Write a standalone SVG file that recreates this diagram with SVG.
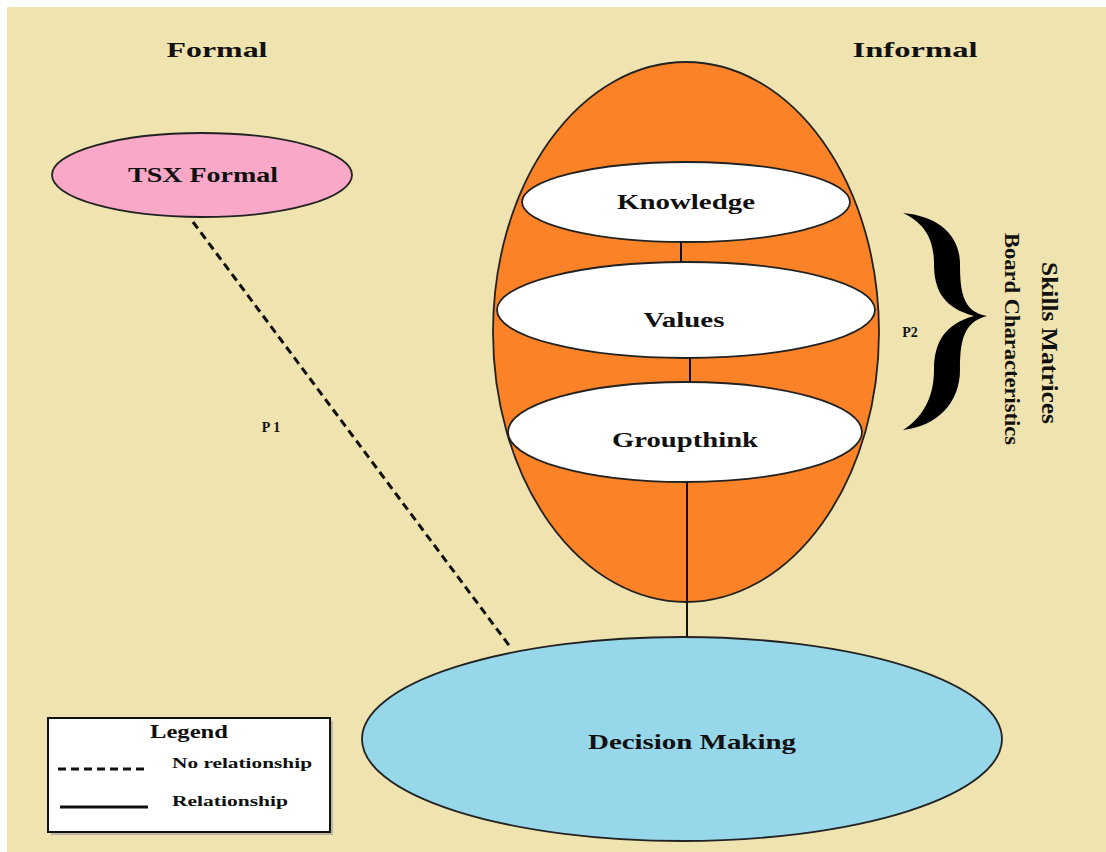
<svg xmlns="http://www.w3.org/2000/svg" width="1106" height="852" viewBox="0 0 1106 852">
<style>
.t{font-family:"Liberation Serif","Times New Roman",serif;font-weight:bold;fill:#111;}
.node{stroke:#222;stroke-width:1.8;}
.rel{stroke:#111;stroke-width:2;fill:none;}
.norel{stroke:#111;stroke-width:3;stroke-dasharray:8,5;fill:none;}
</style>
<rect x="0" y="0" width="1106" height="852" fill="#ffffff"/>
<rect x="7" y="7" width="1099" height="845" fill="#EFE3B0"/>
<text class="t" x="217" y="57" font-size="22" text-anchor="middle" textLength="101" lengthAdjust="spacingAndGlyphs">Formal</text>
<text class="t" x="915" y="57" font-size="22" text-anchor="middle" textLength="125" lengthAdjust="spacingAndGlyphs">Informal</text>
<g id="informal">
<ellipse class="node" cx="686" cy="332" rx="193" ry="270" fill="#FB8226"/>
</g>
<g id="knowledge">
<ellipse class="node" cx="686" cy="202" rx="164" ry="40" fill="#ffffff"/>
<text class="t" x="686" y="209" font-size="20" text-anchor="middle" textLength="138" lengthAdjust="spacingAndGlyphs">Knowledge</text>
</g>
<g id="values">
<ellipse class="node" cx="686" cy="310" rx="189" ry="48" fill="#ffffff"/>
<text class="t" x="684" y="327" font-size="20" text-anchor="middle" textLength="81" lengthAdjust="spacingAndGlyphs">Values</text>
</g>
<g id="groupthink">
<ellipse class="node" cx="685" cy="432" rx="177" ry="50" fill="#ffffff"/>
<text class="t" x="685" y="447" font-size="20" text-anchor="middle" textLength="146" lengthAdjust="spacingAndGlyphs">Groupthink</text>
</g>
<g id="tsx">
<ellipse class="node" cx="202" cy="175" rx="150" ry="42" fill="#F9A8C8"/>
<text class="t" x="203" y="182" font-size="20" text-anchor="middle" textLength="150" lengthAdjust="spacingAndGlyphs">TSX Formal</text>
</g>
<g id="decision">
<ellipse class="node" cx="682" cy="739" rx="320" ry="102" fill="#97D7EA"/>
<text class="t" x="692" y="749" font-size="22" text-anchor="middle" textLength="208" lengthAdjust="spacingAndGlyphs">Decision Making</text>
</g>
<g id="connectors">
<line class="norel" x1="193" y1="222" x2="511" y2="648"/>
<line class="rel" x1="681" y1="242" x2="681" y2="262"/>
<line class="rel" x1="690" y1="358" x2="690" y2="382"/>
<line class="rel" x1="687" y1="482" x2="687" y2="637"/>
</g>
<text class="t" x="271" y="432" font-size="14" text-anchor="middle">P 1</text>
<text class="t" x="910" y="337" font-size="14" text-anchor="middle">P2</text>
<g id="brace">
<path d="M903,213 C938,216 960,235 960,264 C960,292 963,312 987,316 C963,322 960,342 960,370 C960,402 938,426 903,430 C922,418 934,398 934,370 C934,342 945,324 974,316 C945,308 934,292 934,264 C934,236 922,222 903,213 Z" fill="#000"/>
</g>
<text class="t" x="0" y="0" font-size="24" font-weight="normal" text-anchor="middle" transform="translate(1042,343) rotate(90)" textLength="162" lengthAdjust="spacingAndGlyphs">Skills Matrices</text>
<text class="t" x="0" y="0" font-size="20" font-weight="normal" text-anchor="middle" transform="translate(1005,339) rotate(90)" textLength="212" lengthAdjust="spacingAndGlyphs">Board Characteristics</text>
<g id="legend">
<rect x="51" y="721" width="282" height="114" fill="#999" opacity="0.6"/>
<rect x="48" y="718" width="282" height="114" fill="#ffffff" stroke="#111" stroke-width="2"/>
<text class="t" x="189" y="738" font-size="18" text-anchor="middle" textLength="78" lengthAdjust="spacingAndGlyphs">Legend</text>
<line class="norel" x1="58" y1="769" x2="148" y2="769" stroke-dasharray="12,6"/>
<text class="t" x="172" y="768" font-size="15" textLength="140" lengthAdjust="spacingAndGlyphs">No relationship</text>
<line x1="60" y1="807" x2="148" y2="807" stroke="#111" stroke-width="3"/>
<text class="t" x="172" y="806" font-size="15" textLength="116" lengthAdjust="spacingAndGlyphs">Relationship</text>
</g>
</svg>
